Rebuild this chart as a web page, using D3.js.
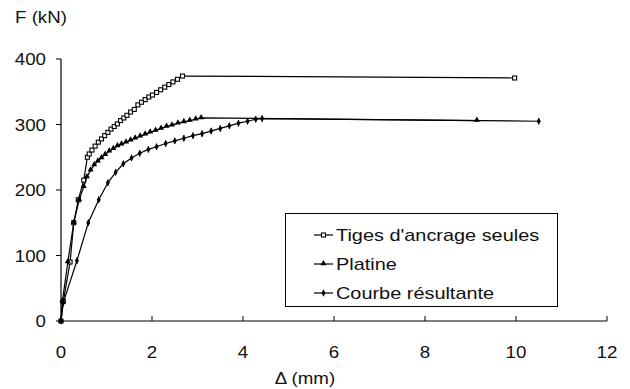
<!DOCTYPE html>
<html><head><meta charset="utf-8">
<script src="https://cdn.jsdelivr.net/npm/d3@7"></script>
<style>html,body{margin:0;padding:0;background:#fff;}svg{display:block;}</style>
</head><body>
<svg id="c" width="630" height="389"></svg>
<script>
const xTicks = [0, 2, 4, 6, 8, 10, 12];
const yTicks = [0, 100, 200, 300, 400];
const seriesNames = ["Tiges d'ancrage seules", "Platine", "Courbe résultante"];

const tigesX = [0, 0.05, 0.2, 0.28, 0.38, 0.5, 0.58, 0.62, 0.68, 0.75, 0.82, 0.89, 0.96, 1.03, 1.1, 1.17, 1.24, 1.31, 1.38, 1.45, 1.53, 1.61, 1.69, 1.77, 1.85, 1.93, 2.01, 2.1, 2.19, 2.28, 2.37, 2.46, 2.56, 2.67, 9.97];
const tigesF = [0, 30, 90, 150, 185, 215, 250, 255, 261, 267, 273, 278, 283, 288, 293, 297, 301, 306, 310, 314, 319, 323, 330, 334, 338, 342, 345, 349, 353, 357, 361, 365, 369, 374, 371];

const platineX = [0, 0.03, 0.15, 0.28, 0.4, 0.5, 0.57, 0.65, 0.73, 0.81, 0.89, 0.97, 1.06, 1.15, 1.24, 1.33, 1.43, 1.53, 1.63, 1.74, 1.85, 1.96, 2.08, 2.2, 2.32, 2.44, 2.57, 2.7, 2.83, 2.96, 3.08, 9.14];
const platineF = [0, 30, 90, 150, 185, 205, 220, 230, 238, 244, 249, 254, 259, 263, 267, 270, 273, 276, 279, 282, 285, 288, 291, 294, 297, 299, 302, 304, 306, 308, 310, 306];

const resX = [0, 0.05, 0.35, 0.6, 0.83, 1.03, 1.2, 1.37, 1.55, 1.73, 1.92, 2.1, 2.3, 2.5, 2.7, 2.9, 3.1, 3.3, 3.5, 3.7, 3.9, 4.1, 4.28, 4.42, 10.5];
const resF = [0, 28, 92, 150, 185, 211, 227, 240, 249, 256, 262, 266, 271, 275, 279, 283, 286, 290, 294, 298, 302, 305, 308, 309, 305];

const svg = d3.select("#c");
const x = d3.scaleLinear().domain([0, 12]).range([61, 607]);
const y = d3.scaleLinear().domain([0, 400]).range([321, 59]);
const FONT = "'Liberation Sans', Arial, sans-serif";
const SX = 1.17;

function label(g, px, py, txt, anchor, size) {
  g.append("text")
    .attr("transform", `translate(${px},${py}) scale(${SX},1)`)
    .attr("text-anchor", anchor || "start")
    .attr("font-family", FONT).attr("font-size", size || 16).attr("fill", "#111")
    .text(txt);
}

// axes lines
svg.append("line").attr("x1", x(0)).attr("x2", x(0)).attr("y1", y(400)).attr("y2", y(0))
  .attr("stroke", "#000").attr("stroke-width", 1.2);
svg.append("line").attr("x1", x(0)).attr("x2", x(12)).attr("y1", y(0)).attr("y2", y(0))
  .attr("stroke", "#000").attr("stroke-width", 1.2);

// y ticks
const gy = svg.append("g");
yTicks.forEach(t => {
  gy.append("line").attr("x1", x(0) - 5).attr("x2", x(0)).attr("y1", y(t)).attr("y2", y(t))
    .attr("stroke", "#000").attr("stroke-width", 1);
  label(gy, 46, y(t) + 6, String(t), "end");
});
// x ticks
const gx = svg.append("g");
xTicks.forEach(t => {
  gx.append("line").attr("x1", x(t)).attr("x2", x(t)).attr("y1", y(0) - 5).attr("y2", y(0))
    .attr("stroke", "#000").attr("stroke-width", 1);
  label(gx, x(t), 358, String(t), "middle");
});
label(svg, 15, 23, "F (kN)", "start");
label(svg, 305, 384, "Δ (mm)", "middle");

const series = [
  {xs: tigesX, fs: tigesF, type: "square"},
  {xs: platineX, fs: platineF, type: "triangle"},
  {xs: resX, fs: resF, type: "diamond"}
];

const line = d3.line().x(d => x(d[0])).y(d => y(d[1]));

function drawMarker(g, cx, cy, type) {
  if (type === "square") {
    g.append("rect").attr("x", cx - 2).attr("y", cy - 2).attr("width", 4).attr("height", 4)
      .attr("fill", "#fff").attr("stroke", "#000").attr("stroke-width", 1.1);
  } else if (type === "triangle") {
    g.append("path").attr("d", d3.symbol().type(d3.symbolTriangle).size(16)())
      .attr("transform", `translate(${cx},${cy - 0.5})`).attr("fill", "#000");
  } else {
    g.append("path").attr("d", d3.symbol().type(d3.symbolDiamond).size(14)())
      .attr("transform", `translate(${cx},${cy})`).attr("fill", "#000");
    g.append("line").attr("x1", cx).attr("x2", cx).attr("y1", cy - 3.2).attr("y2", cy + 3.2)
      .attr("stroke", "#000").attr("stroke-width", 1);
  }
}

series.forEach(s => {
  const pts = s.xs.map((v, i) => [v, s.fs[i]]);
  const g = svg.append("g");
  g.append("path").attr("d", line(pts)).attr("fill", "none")
    .attr("stroke", "#000").attr("stroke-width", 1.2);
  pts.forEach(p => drawMarker(g, x(p[0]), y(p[1]), s.type));
});

// legend
const lg = svg.append("g");
lg.append("rect").attr("x", 285.5).attr("y", 213.5).attr("width", 272).attr("height", 93)
  .attr("fill", "#fff").attr("stroke", "#000").attr("stroke-width", 1);
const rowsY = [235, 264, 293];
seriesNames.forEach((n, i) => {
  lg.append("line").attr("x1", 314).attr("x2", 333).attr("y1", rowsY[i]).attr("y2", rowsY[i])
    .attr("stroke", "#000").attr("stroke-width", 1.2);
  drawMarker(lg, 323.5, rowsY[i], series[i].type);
  label(lg, 336, rowsY[i] + 6, n, "start", 17);
});
</script>
</body></html>
